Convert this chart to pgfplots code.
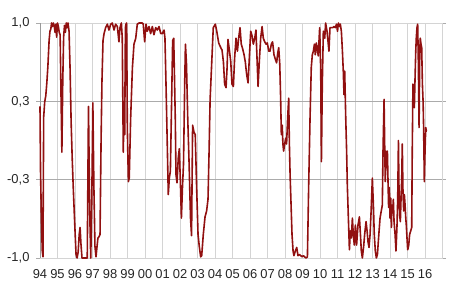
\documentclass[border=0pt]{standalone}
\usepackage{fontspec}
\setmainfont{Liberation Sans}
\usepackage{pgfplots}
\pgfplotsset{compat=1.18}
\definecolor{linered}{RGB}{145,16,16}
\begin{document}
\begin{tikzpicture}
\begin{axis}[
 scale only axis, width=402bp, height=235bp,
 xmin=1994, xmax=2016.97, ymin=-1, ymax=1,
 xtick={1994,1995,1996,1997,1998,1999,2000,2001,2002,2003,2004,2005,2006,2007,2008,2009,2010,2011,2012,2013,2014,2015,2016},
 xticklabels={94,95,96,97,98,99,00,01,02,03,04,05,06,07,08,09,10,11,12,13,14,15,16},
 ytick={-1,-0.333333,0.333333,1},
 yticklabels={{-1,0},{-0,3},{0,3},{1,0}},
 xmajorgrids, ymajorgrids,
 x grid style={draw=black!17, line width=0.8bp},
 y grid style={draw=black!33, line width=0.8bp},
 axis line style={draw=black!17, line width=0.8bp},
 xtick style={draw=none},
 ytick style={draw=black!33, line width=0.8bp},
 tick align=outside, major tick length=4bp,
 ticklabel style={font=\fontsize{13}{15}\selectfont, text=black!85},
 xticklabel style={yshift=-4bp},
 yticklabel style={xshift=-3bp},
 /pgf/number format/assume math mode=true,
 clip=false,
]
\draw[black!40, line width=0.8bp] (rel axis cs:0,0) -- (rel axis cs:0,1);
\addplot[color=linered, line width=1.6bp, mark=none, line join=round] coordinates {
(1994.00,0.29) (1994.03,-0.26) (1994.08,-0.66) (1994.13,-0.94) (1994.17,-0.99)
(1994.21,0.2) (1994.27,0.33) (1994.33,0.38) (1994.39,0.49) (1994.45,0.63)
(1994.52,0.85) (1994.57,0.93) (1994.62,0.95) (1994.66,1.0) (1994.71,0.97)
(1994.76,1.0) (1994.81,0.98) (1994.86,0.92) (1994.91,0.99) (1994.95,0.88)
(1995.00,1.0) (1995.05,0.97) (1995.10,0.92) (1995.15,0.9) (1995.20,0.4)
(1995.25,-0.1) (1995.30,0.5) (1995.35,0.88) (1995.40,0.98) (1995.45,0.92)
(1995.50,1.0) (1995.55,0.96) (1995.60,1.0) (1995.66,0.93) (1995.72,0.6)
(1995.78,0.15) (1995.84,-0.15) (1995.90,-0.4) (1995.96,-0.62) (1996.01,-0.8)
(1996.06,-0.97) (1996.12,-1.0) (1996.18,-0.95) (1996.24,-0.8) (1996.29,-0.74)
(1996.34,-0.88) (1996.40,-1.0) (1996.47,-1.0) (1996.55,-1.0) (1996.62,-1.0)
(1996.70,-1.0) (1996.77,0.29) (1996.84,-0.6) (1996.90,-1.0) (1996.96,-0.5)
(1997.02,0.32) (1997.08,-0.4) (1997.14,-0.9) (1997.20,-0.99) (1997.26,-0.9)
(1997.31,-0.83) (1997.37,-0.82) (1997.43,-0.8) (1997.49,0.0) (1997.54,0.5)
(1997.60,0.85) (1997.66,0.91) (1997.75,0.96) (1997.85,0.99) (1997.94,0.94)
(1998.04,0.99) (1998.13,1.0) (1998.23,0.94) (1998.32,0.99) (1998.42,0.97)
(1998.51,0.84) (1998.57,0.96) (1998.65,1.0) (1998.70,0.87) (1998.76,-0.1)
(1998.80,0.33) (1998.84,0.05) (1998.88,0.96) (1998.91,0.99) (1998.95,1.0)
(1998.99,0.11) (1999.05,-0.35) (1999.10,-0.32) (1999.18,0.19) (1999.28,0.62)
(1999.37,0.82) (1999.47,0.87) (1999.56,0.99) (1999.66,1.0) (1999.75,1.0)
(1999.85,1.0) (1999.90,0.99) (1999.98,0.84) (2000.06,0.99) (2000.13,0.93)
(2000.23,0.97) (2000.32,0.91) (2000.42,0.97) (2000.51,0.9) (2000.61,0.96)
(2000.70,0.94) (2000.80,0.97) (2000.90,0.91) (2000.99,0.91) (2001.09,0.94)
(2001.14,0.87) (2001.20,0.48) (2001.28,-0.09) (2001.33,-0.46) (2001.39,-0.32)
(2001.45,-0.26) (2001.52,0.33) (2001.58,0.85) (2001.64,0.87) (2001.69,0.5)
(2001.73,0.19) (2001.77,-0.29) (2001.83,-0.36) (2001.90,-0.15) (2001.96,-0.07)
(2002.02,-0.35) (2002.08,-0.66) (2002.14,-0.4) (2002.20,-0.2) (2002.27,0.5)
(2002.31,0.82) (2002.37,0.65) (2002.44,0.2) (2002.52,-0.2) (2002.60,-0.66)
(2002.66,-0.81) (2002.72,0.13) (2002.80,0.07) (2002.87,0.05) (2002.95,-0.4)
(2003.03,-0.8) (2003.10,-0.9) (2003.18,-0.99) (2003.24,-0.98) (2003.33,-0.8)
(2003.43,-0.65) (2003.52,-0.6) (2003.60,-0.5) (2003.66,-0.1) (2003.72,0.35)
(2003.80,0.62) (2003.90,0.96) (2004.02,0.99) (2004.10,0.93) (2004.21,0.83)
(2004.33,0.79) (2004.40,0.77) (2004.48,0.67) (2004.55,0.48) (2004.63,0.45)
(2004.69,0.62) (2004.74,0.86) (2004.82,0.77) (2004.90,0.67) (2004.97,0.48)
(2005.05,0.46) (2005.12,0.70) (2005.20,0.87) (2005.28,0.76) (2005.35,0.87)
(2005.43,0.96) (2005.50,0.82) (2005.58,0.78) (2005.66,0.73) (2005.73,0.67)
(2005.81,0.56) (2005.89,0.49) (2005.96,0.7) (2006.04,0.93) (2006.12,0.89)
(2006.19,0.82) (2006.27,0.87) (2006.34,0.94) (2006.40,0.7) (2006.46,0.46)
(2006.53,0.67) (2006.61,0.87) (2006.69,0.97) (2006.76,0.87) (2006.84,0.84)
(2006.92,0.82) (2006.99,0.83) (2007.07,0.76) (2007.14,0.76) (2007.22,0.82)
(2007.29,0.84) (2007.37,0.73) (2007.45,0.69) (2007.52,0.66) (2007.58,0.74)
(2007.64,0.79) (2007.70,0.65) (2007.75,0.36) (2007.79,0.05) (2007.84,0.13)
(2007.88,-0.03) (2007.92,-0.09) (2007.98,-0.03) (2008.04,0.02) (2008.09,-0.03)
(2008.15,0.19) (2008.21,0.36) (2008.25,-0.03) (2008.29,-0.29) (2008.34,-0.52)
(2008.40,-0.8) (2008.46,-0.94) (2008.51,-0.98) (2008.59,-0.94) (2008.67,-0.91)
(2008.74,-0.98) (2008.82,-0.97) (2008.90,-0.98) (2008.97,-0.99) (2009.05,-0.98)
(2009.12,-0.99) (2009.20,-1.0) (2009.28,-0.99) (2009.35,-0.4) (2009.43,0.19)
(2009.50,0.62) (2009.56,0.73) (2009.62,0.76) (2009.68,0.82) (2009.73,0.73)
(2009.79,0.83) (2009.85,0.77) (2009.90,0.72) (2009.98,0.96) (2010.04,0.6)
(2010.08,-0.18) (2010.13,0.48) (2010.19,0.93) (2010.27,0.87) (2010.32,1.0)
(2010.40,0.93) (2010.46,0.84) (2010.51,0.76) (2010.57,0.96) (2010.65,0.96)
(2010.72,0.96) (2010.80,0.97) (2010.88,0.96) (2010.94,0.99) (2011.00,0.93)
(2011.05,1.0) (2011.11,0.97) (2011.16,0.99) (2011.22,0.93) (2011.28,0.76)
(2011.33,0.59) (2011.37,0.39) (2011.41,0.59) (2011.47,0.19) (2011.52,-0.09)
(2011.56,-0.38) (2011.62,-0.66) (2011.68,-0.93) (2011.73,-0.77) (2011.79,-0.83)
(2011.85,-0.66) (2011.90,-0.8) (2011.96,-0.89) (2012.02,-0.72) (2012.09,-0.89)
(2012.17,-0.72) (2012.25,-0.65) (2012.31,-0.8) (2012.36,-0.94) (2012.42,-1.0)
(2012.50,-0.89) (2012.55,-0.8) (2012.63,-0.69) (2012.69,-0.77) (2012.74,-0.86)
(2012.80,-0.91) (2012.86,-0.8) (2012.92,-0.6) (2012.99,-0.32) (2013.05,-0.55)
(2013.10,-0.8) (2013.16,-0.94) (2013.22,-1.0) (2013.28,-0.97) (2013.36,-0.8)
(2013.43,-0.66) (2013.50,-0.6) (2013.56,-0.55) (2013.60,-0.09) (2013.66,0.35)
(2013.70,-0.09) (2013.73,-0.35) (2013.77,-0.09) (2013.81,-0.23) (2013.85,-0.09)
(2013.89,-0.38) (2013.92,-0.57) (2013.96,-0.4) (2014.00,-0.66) (2014.04,-0.49)
(2014.08,-0.74) (2014.11,-0.55) (2014.15,-0.6) (2014.19,-0.5) (2014.23,-0.69)
(2014.29,-0.8) (2014.34,-0.94) (2014.40,-0.72) (2014.44,-0.49) (2014.48,0.0)
(2014.51,-0.38) (2014.55,-0.63) (2014.59,-0.69) (2014.63,-0.49) (2014.67,-0.32)
(2014.70,-0.03) (2014.74,-0.43) (2014.78,-0.6) (2014.82,-0.46) (2014.86,-0.55)
(2014.90,-0.66) (2014.93,-0.72) (2014.97,-0.83) (2015.01,-0.93) (2015.07,-0.89)
(2015.12,-0.8) (2015.18,-0.77) (2015.24,-0.74) (2015.27,-0.09) (2015.31,0.48)
(2015.35,0.39) (2015.39,0.28) (2015.43,0.53) (2015.47,0.76) (2015.50,0.87)
(2015.54,0.96) (2015.58,0.99) (2015.62,0.65) (2015.66,0.11) (2015.70,0.76)
(2015.73,0.87) (2015.77,0.82) (2015.81,0.79) (2015.85,0.48) (2015.89,0.33)
(2015.92,0.11) (2015.96,-0.35) (2016.00,-0.09) (2016.04,0.11) (2016.08,0.08)
(2016.11,0.08)
};
\end{axis}
\path (current axis.south west) ++(-40bp,-33bp) coordinate (bl);
\path (current axis.north east) ++(8bp,23bp) coordinate (tr);
\path (bl) rectangle (tr);
\end{tikzpicture}
\end{document}
